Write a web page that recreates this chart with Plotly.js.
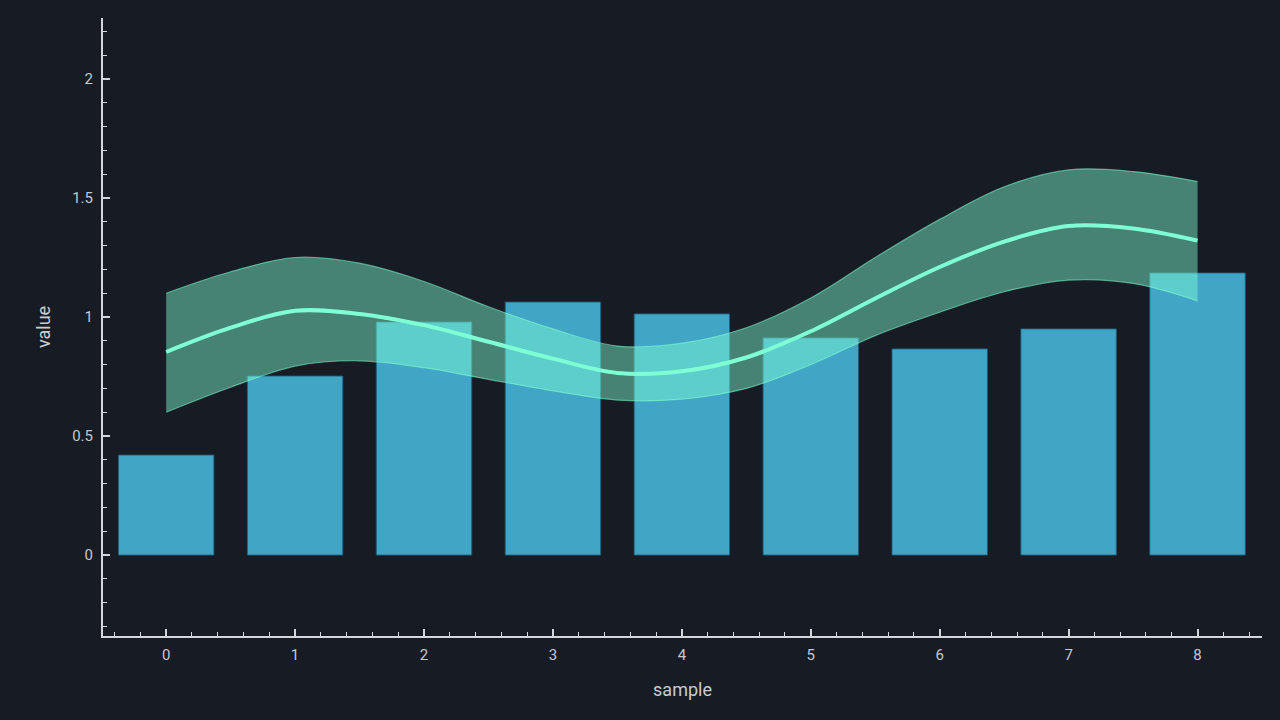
<!DOCTYPE html>
<html>
<head>
<meta charset="utf-8">
<script src="https://cdn.plot.ly/plotly-3.0.1.min.js"></script>
<style>
  html, body { margin: 0; padding: 0; background: #171b23; }
  #chart { width: 1280px; height: 720px; }
</style>
</head>
<body>
<div id="chart"></div>
<script>
// Bar data
const barX = [0, 1, 2, 3, 4, 5, 6, 7, 8];
const barValues = [0.42, 0.752, 0.979, 1.063, 1.013, 0.912, 0.866, 0.95, 1.185];

// Smooth curve and band (read at half-integer steps)
const curveX = [0, 0.5, 1, 1.5, 2, 2.5, 3, 3.5, 4, 4.5, 5, 5.5, 6, 6.5, 7, 7.5, 8];
const curveMid = [0.853, 0.955, 1.026, 1.013, 0.966, 0.896, 0.825, 0.765, 0.772, 0.83, 0.94, 1.078, 1.21, 1.317, 1.382, 1.372, 1.321];
const bandUpper = [1.10, 1.19, 1.25, 1.226, 1.149, 1.043, 0.95, 0.878, 0.89, 0.955, 1.08, 1.25, 1.41, 1.547, 1.618, 1.611, 1.569];
const bandLower = [0.60, 0.705, 0.794, 0.816, 0.787, 0.738, 0.69, 0.651, 0.655, 0.70, 0.80, 0.922, 1.02, 1.106, 1.155, 1.141, 1.068];

const xTicks = [0, 1, 2, 3, 4, 5, 6, 7, 8];
const yTicks = [0, 0.5, 1, 1.5, 2];
const yTickText = ['0', '0.5', '1', '1.5', '2'];

const traces = [
  {
    type: 'scatter', mode: 'lines', x: curveX, y: bandLower,
    line: { color: 'rgba(127,255,212,0.55)', width: 1.2, shape: 'spline' },
    hoverinfo: 'skip', showlegend: false
  },
  {
    type: 'scatter', mode: 'lines', x: curveX, y: bandUpper,
    fill: 'tonexty', fillcolor: 'rgba(127,255,212,0.46)',
    line: { color: 'rgba(127,255,212,0.55)', width: 1.2, shape: 'spline' },
    hoverinfo: 'skip', showlegend: false
  },
  {
    type: 'scatter', mode: 'lines', x: curveX, y: curveMid,
    line: { color: '#7fffd4', width: 4, shape: 'spline' },
    showlegend: false
  },
  {
    type: 'bar', x: barX, y: barValues, width: 0.74,
    marker: { color: 'rgba(76,200,238,0.8)', line: { color: 'rgba(30,95,125,0.9)', width: 1 } },
    showlegend: false
  }
];

const axisColor = '#d3d7dd';
const layout = {
  width: 1280, height: 720,
  paper_bgcolor: '#171b23', plot_bgcolor: '#171b23',
  margin: { l: 103, r: 18, t: 18, b: 84 },
  font: { family: 'Roboto, sans-serif', color: '#c5c9cf', size: 16 },
  showlegend: false,
  xaxis: {
    range: [-0.49, 8.5],
    tickvals: xTicks, ticktext: xTicks.map(String),
    ticks: 'inside', ticklen: 7, tickwidth: 2, tickcolor: axisColor,
    minor: { dtick: 0.2, ticks: 'inside', ticklen: 4, tickwidth: 1, tickcolor: axisColor, showgrid: false },
    showline: true, linecolor: axisColor, linewidth: 2,
    showgrid: false, zeroline: false,
    ticklabelstandoff: 4,
    tickfont: { size: 15, color: '#c5c9cf' },
    title: { text: 'sample', font: { size: 18, color: '#c8ccd2' }, standoff: 20 }
  },
  yaxis: {
    range: [-0.34, 2.256],
    tickvals: yTicks, ticktext: yTickText,
    ticks: 'inside', ticklen: 7, tickwidth: 2, tickcolor: axisColor,
    minor: { dtick: 0.1, ticks: 'inside', ticklen: 4, tickwidth: 1, tickcolor: axisColor, showgrid: false },
    showline: true, linecolor: axisColor, linewidth: 2,
    showgrid: false, zeroline: false,
    ticklabelstandoff: 5,
    tickfont: { size: 15, color: '#c5c9cf' },
    title: { text: 'value', font: { size: 18, color: '#c8ccd2' }, standoff: 17 }
  }
};

Plotly.newPlot('chart', traces, layout, { displayModeBar: false, staticPlot: true });
</script>
</body>
</html>
